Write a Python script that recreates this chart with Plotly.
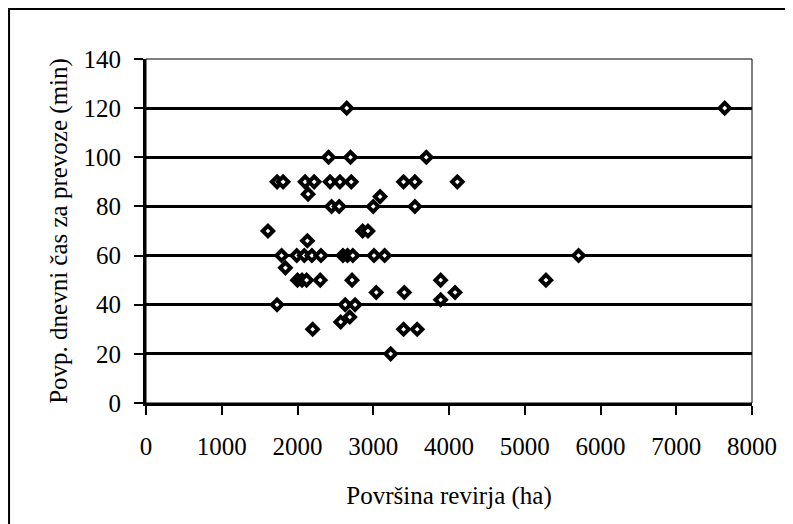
import plotly.graph_objects as go

# Data
area_ha = [
    2650, 7640,
    2410, 2700, 3700,
    1730, 1810, 2100, 2220, 2430, 2560, 2710, 3400, 3550, 4110,
    2140, 3090,
    2450, 2550, 3000, 3550,
    1610, 2860, 2930,
    2130,
    1790, 1990, 2090, 2190, 2310, 2600, 2660, 2730, 3010, 3150, 5710,
    1840,
    2000, 2060, 2120, 2300, 2720, 3890, 5280,
    3040, 3410, 4080,
    3890,
    1730, 2630, 2760,
    2690, 2570,
    2200, 3400, 3580,
    3230,
]
time_min = [
    120, 120,
    100, 100, 100,
    90, 90, 90, 90, 90, 90, 90, 90, 90, 90,
    85, 84,
    80, 80, 80, 80,
    70, 70, 70,
    66,
    60, 60, 60, 60, 60, 60, 60, 60, 60, 60, 60,
    55,
    50, 50, 50, 50, 50, 50, 50,
    45, 45, 45,
    42,
    40, 40, 40,
    35, 33,
    30, 30, 30,
    20,
]

x_title = "Površina revirja (ha)"
y_title = "Povp. dnevni čas za prevoze (min)"

FONT = "Liberation Serif"

fig = go.Figure()
fig.add_trace(go.Scatter(
    x=area_ha, y=time_min, mode="markers",
    marker=dict(symbol="diamond", size=8, color="white",
                line=dict(color="black", width=4)),
    showlegend=False, hoverinfo="x+y",
))

fig.update_layout(
    width=793, height=524,
    margin=dict(l=138, r=49, t=51, b=129),
    paper_bgcolor="white", plot_bgcolor="white",
    font=dict(family=FONT, size=25, color="black"),
    xaxis=dict(
        range=[0, 8000], dtick=1000, tick0=0,
        showgrid=False, zeroline=False,
        showline=True, linecolor="black", linewidth=3,
        ticks="outside", ticklen=9, tickwidth=2, tickcolor="black",
        ticklabelstandoff=10,
        title=dict(text=x_title, font=dict(family=FONT, size=25), standoff=28),
        fixedrange=True,
    ),
    yaxis=dict(
        range=[0, 140], dtick=20, tick0=0,
        showgrid=True, gridcolor="black", gridwidth=2.5,
        zeroline=False,
        showline=True, linecolor="black", linewidth=3,
        ticks="outside", ticklen=9, tickwidth=2, tickcolor="black",
        ticklabelstandoff=8,
        title=dict(text=y_title, font=dict(family=FONT, size=25), standoff=9),
        fixedrange=True,
    ),
    shapes=[
        # plot-area border (thin)
        dict(type="rect", xref="paper", yref="paper", x0=0, x1=1, y0=0, y1=1,
             line=dict(color="black", width=1), layer="below"),
        # outer chart border
        dict(type="rect", xref="paper", yref="paper",
             x0=-0.226, x1=1.3, y0=-0.5, y1=1.145,
             line=dict(color="black", width=2), layer="above"),
    ],
)

fig.write_html("out.html")
